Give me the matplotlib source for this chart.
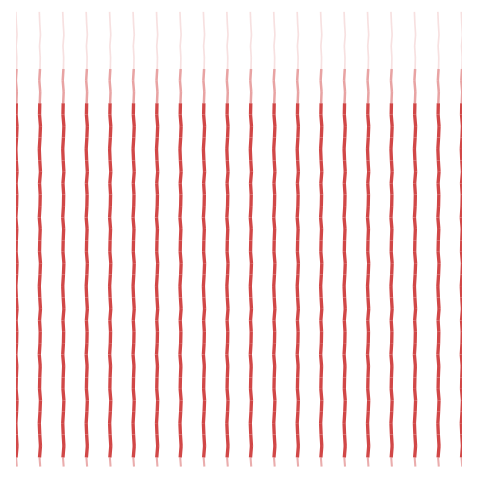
import matplotlib
matplotlib.use("Agg")
import matplotlib.pyplot as plt

categories = list(range(20))
# y-values along each column (shared pattern), 0 = bottom, 100 = top
y_values = [0.0, 2.0, 4.5, 7.0, 9.5, 12.0, 14.5, 17.0, 19.5, 22.0, 24.5, 27.0, 29.5,
            32.0, 34.5, 37.0, 39.5, 42.0, 44.5, 47.0, 49.5, 52.0, 54.5, 57.0, 59.5,
            62.0, 64.5, 67.0, 69.5, 72.0, 74.5, 77.0, 79.5, 82.0, 84.5, 87.0, 89.5,
            92.0, 94.5, 97.0, 99.5]
x_offsets = [0.02, -0.01, 0.03, 0.0, -0.02, 0.01, 0.03, -0.01, 0.0, 0.02, -0.02, 0.01]

fig = plt.figure(figsize=(4.8, 4.8), dpi=100)
ax = fig.add_axes([0.033, 0.028, 0.93, 0.952])
for c in categories:
    for i in range(len(y_values) - 1):
        y0, y1 = y_values[i], y_values[i + 1]
        x0 = c + x_offsets[i % len(x_offsets)]
        x1 = c + x_offsets[(i + 1) % len(x_offsets)]
        if y0 < 1.5:
            a, lw = 0.4, 1.5
        elif y1 <= 80:
            a, lw = 0.9, 2.4
        elif y1 <= 88:
            a, lw = 0.45, 1.8
        else:
            a, lw = 0.15, 1.2
        ax.plot([x0, x1], [y0, y1], color='#cc3333', alpha=a, lw=lw,
                solid_capstyle='butt')
ax.set_xlim(-0.02, 19.02)
ax.set_ylim(0, 100)
ax.axis('off')
fig.savefig("out.png", dpi=100)
